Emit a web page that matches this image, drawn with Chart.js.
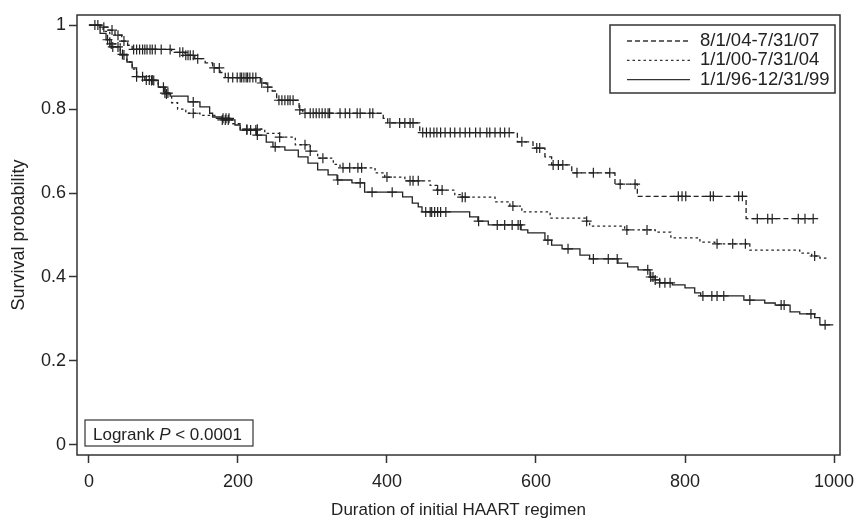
<!DOCTYPE html>
<html>
<head>
<meta charset="utf-8">
<script src="https://cdn.jsdelivr.net/npm/chart.js@4/dist/chart.umd.min.js"></script>
<style>
  html, body { margin: 0; padding: 0; background: #fff; }
  #wrap { width: 857px; height: 525px; }
</style>
</head>
<body>
<div id="wrap"><canvas id="kmChart"></canvas></div>
<script>
// оси
const xTicks = [0, 200, 400, 600, 800, 1000];
const yTicks = [0, 0.2, 0.4, 0.6, 0.8, 1];
const seriesNames = ['8/1/04-7/31/07', '1/1/00-7/31/04', '1/1/96-12/31/99'];

// 8/1/04-7/31/07 : время событий и выживаемость
const timesA = [0, 16, 25, 35, 44, 52, 58, 111, 129, 142, 156, 166, 176, 183, 230, 238, 246, 252, 282, 287, 395, 401, 444, 575, 596, 612, 621, 648, 706, 736, 882, 975];
const survA  = [1, 0.995, 0.988, 0.976, 0.962, 0.952, 0.942, 0.935, 0.928, 0.92, 0.91, 0.898, 0.887, 0.875, 0.862, 0.852, 0.843, 0.821, 0.798, 0.79, 0.778, 0.767, 0.744, 0.722, 0.707, 0.686, 0.667, 0.648, 0.621, 0.592, 0.539, 0.539];
const censorA = [12, 20, 31, 39, 47, 60, 64, 68, 72, 75, 78, 82, 85, 89, 97, 109, 122, 126, 130, 133, 136, 140, 146, 168, 175,
  187, 193, 199, 203, 205, 208, 211, 213, 216, 220, 224, 232, 240, 255, 259, 263, 267, 270, 274, 283,
  290, 297, 301, 305, 309, 313, 317, 321, 323, 337, 344, 350, 360, 364, 377, 381, 404, 417, 424, 431, 435,
  448, 453, 458, 463, 467, 472, 478, 485, 491, 498, 505, 511, 519, 525, 534, 538, 545, 552, 558, 564,
  581, 601, 605, 623, 630, 636, 655, 677, 699, 713, 733, 791, 796, 801, 834, 838, 872, 877, 897, 911, 917, 952, 961, 972];

// 1/1/00-7/31/04
const timesB = [0, 19, 28, 42, 51, 58, 64, 82, 93, 103, 111, 119, 130, 149, 169, 192, 203, 236, 256, 277, 297, 307, 328, 337, 384, 397, 424, 458, 467, 491, 501, 545, 565, 581, 619, 666, 672, 719, 760, 781, 820, 840, 887, 954, 970, 981, 990];
const survB  = [1, 0.985, 0.955, 0.93, 0.912, 0.895, 0.878, 0.868, 0.852, 0.836, 0.815, 0.8, 0.79, 0.785, 0.778, 0.765, 0.752, 0.742, 0.733, 0.715, 0.7, 0.683, 0.668, 0.66, 0.648, 0.638, 0.629, 0.618, 0.607, 0.596, 0.59, 0.579, 0.569, 0.555, 0.54, 0.533, 0.521, 0.512, 0.507, 0.493, 0.483, 0.479, 0.464, 0.457, 0.45, 0.445, 0.445];
const censorB = [30, 45, 84, 87, 100, 104, 140, 180, 184, 188, 212, 226, 256, 290, 297, 314, 341, 350, 361, 366, 400, 431, 435, 442, 468, 474, 501, 505, 569, 668, 722, 749, 843, 864, 881, 974];

// 1/1/96-12/31/99
const timesC = [0, 15, 23, 28, 42, 51, 58, 64, 75, 93, 102, 109, 133, 149, 162, 166, 179, 196, 203, 225, 238, 247, 263, 281, 294, 307, 321, 333, 353, 370, 421, 434, 442, 447, 511, 522, 536, 580, 589, 612, 621, 635, 659, 672, 710, 723, 737, 753, 760, 766, 783, 800, 813, 821, 879, 907, 921, 941, 954, 974, 981, 999];
const survC  = [1, 0.98, 0.965, 0.948, 0.929, 0.912, 0.898, 0.877, 0.869, 0.852, 0.838, 0.831, 0.817, 0.805, 0.79, 0.781, 0.774, 0.762, 0.75, 0.738, 0.721, 0.71, 0.702, 0.686, 0.671, 0.655, 0.643, 0.631, 0.624, 0.602, 0.591, 0.576, 0.567, 0.555, 0.543, 0.533, 0.524, 0.512, 0.505, 0.488, 0.476, 0.467, 0.452, 0.443, 0.433, 0.424, 0.417, 0.4, 0.393, 0.386, 0.381, 0.374, 0.362, 0.355, 0.345, 0.338, 0.333, 0.317, 0.312, 0.303, 0.286, 0.286];
const censorC = [8, 25, 32, 39, 47, 64, 72, 77, 81, 85, 102, 106, 140, 179, 183, 187, 212, 217, 224, 226, 250, 334, 364, 380, 407,
  452, 458, 460, 464, 468, 472, 479, 523, 548, 558, 568, 576, 579, 616, 643, 677, 697, 709, 750, 754, 757, 760, 766, 773, 780,
  824, 836, 843, 852, 887, 929, 933, 969, 988];

const lineDashes = [[5, 3], [2.5, 3], []];
const inkColor = '#222';

// значение ступенчатой кривой в момент t
function stepValue(times, surv, t) {
    let v = surv[0];
    for (let i = 0; i < times.length; i++) {
        if (times[i] <= t) v = surv[i];
    }
    return v;
}

function curveData(times, surv) {
    return times.map((t, i) => ({ x: t, y: surv[i] }));
}

function censorData(censor, times, surv) {
    return censor.map(t => ({ x: t, y: stepValue(times, surv, t) }));
}

const curves = [
    [timesA, survA, censorA],
    [timesB, survB, censorB],
    [timesC, survC, censorC]
];

const datasets = [];
curves.forEach((c, i) => {
    datasets.push({
        type: 'line',
        label: seriesNames[i],
        data: curveData(c[0], c[1]),
        stepped: true,
        borderColor: inkColor,
        borderWidth: 1.3,
        borderDash: lineDashes[i],
        pointRadius: 0,
        fill: false
    });
});
curves.forEach((c, i) => {
    datasets.push({
        type: 'scatter',
        label: 'censor ' + seriesNames[i],
        data: censorData(c[2], c[0], c[1]),
        pointStyle: 'cross',
        pointRadius: 5,
        borderColor: inkColor,
        borderWidth: 1.2,
        backgroundColor: inkColor
    });
});

// рамка, легенда и подпись logrank
const overlay = {
    id: 'overlay',
    afterDraw(chart) {
        const ctx = chart.ctx;
        const a = chart.chartArea;
        ctx.save();
        ctx.strokeStyle = '#333';
        ctx.lineWidth = 1.5;
        ctx.setLineDash([]);
        ctx.strokeRect(a.left, a.top, a.right - a.left, a.bottom - a.top);

        // легенда
        ctx.fillStyle = '#fff';
        ctx.fillRect(610, 25, 225, 68);
        ctx.strokeRect(610, 25, 225, 68);
        ctx.font = '18.5px "Liberation Sans", Arial, sans-serif';
        ctx.textBaseline = 'middle';
        ctx.textAlign = 'left';
        seriesNames.forEach((name, i) => {
            const y = 41 + i * 19.3;
            ctx.beginPath();
            ctx.lineWidth = 1.3;
            ctx.setLineDash(lineDashes[i]);
            ctx.moveTo(627, y);
            ctx.lineTo(690, y);
            ctx.stroke();
            ctx.setLineDash([]);
            ctx.fillStyle = inkColor;
            ctx.fillText(name, 700, y);
        });

        // logrank
        ctx.lineWidth = 1.2;
        ctx.fillStyle = '#fff';
        ctx.fillRect(85, 420, 168, 26);
        ctx.strokeRect(85, 420, 168, 26);
        ctx.fillStyle = inkColor;
        ctx.textBaseline = 'alphabetic';
        let x = 93;
        const parts = [['Logrank ', ''], ['P', 'italic '], [' < 0.0001', '']];
        parts.forEach(p => {
            ctx.font = p[1] + '17px "Liberation Sans", Arial, sans-serif';
            ctx.fillText(p[0], x, 440);
            x += ctx.measureText(p[0]).width;
        });
        ctx.restore();
    }
};

const chartFont = { family: '"Liberation Sans", Arial, sans-serif', size: 18 };

new Chart(document.getElementById('kmChart'), {
    data: { datasets: datasets },
    options: {
        responsive: true,
        maintainAspectRatio: false,
        animation: false,
        layout: { padding: { top: 15, right: 17, left: 0, bottom: 0 } },
        plugins: {
            legend: { display: false },
            tooltip: { enabled: false }
        },
        scales: {
            x: {
                type: 'linear',
                min: -16,
                max: 1008,
                afterBuildTicks: s => { s.ticks = xTicks.map(v => ({ value: v })); },
                afterFit: s => { s.height = 70; s.paddingLeft = 0; s.paddingRight = 0; },
                border: { display: false },
                grid: { drawOnChartArea: false, tickLength: 8, tickColor: '#333', tickWidth: 1.5 },
                ticks: { color: inkColor, font: chartFont, padding: 8, maxRotation: 0, autoSkip: false, callback: v => String(v) },
                title: {
                    display: true,
                    text: 'Duration of initial HAART regimen',
                    color: inkColor,
                    font: { family: chartFont.family, size: 17 },
                    padding: { top: 0, bottom: 4 }
                }
            },
            y: {
                type: 'linear',
                min: -0.024,
                max: 1.024,
                afterBuildTicks: s => { s.ticks = yTicks.map(v => ({ value: v })); },
                afterFit: s => { s.width = 77; s.paddingTop = 0; s.paddingBottom = 0; },
                border: { display: false },
                grid: { drawOnChartArea: false, tickLength: 8, tickColor: '#333', tickWidth: 1.5 },
                ticks: { color: inkColor, font: chartFont, padding: 3, callback: v => String(v) },
                title: {
                    display: true,
                    text: 'Survival probability',
                    color: inkColor,
                    font: { family: chartFont.family, size: 18 },
                    padding: { top: 8, bottom: 0 }
                }
            }
        }
    },
    plugins: [overlay]
});
</script>
</body>
</html>
